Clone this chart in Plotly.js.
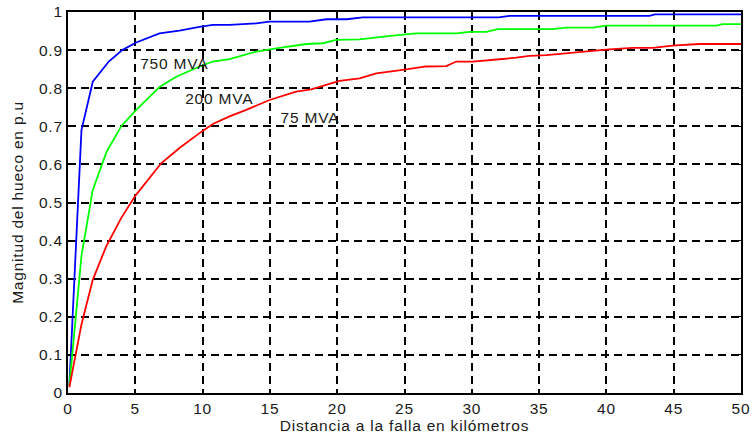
<!DOCTYPE html>
<html>
<head>
<meta charset="utf-8">
<script src="https://cdn.plot.ly/plotly-3.0.1.min.js"></script>
<style>
  html, body { margin: 0; padding: 0; background: #fff; }
  #chart { width: 752px; height: 443px; }
  .main-svg text { letter-spacing: 0.8px; }
</style>
</head>
<body>
<div id="chart"></div>
<script>
// ---- Data ----
const seriesNames = ["750 MVA", "200 MVA", "75 MVA"];

const x750 = [0.1, 1.0, 1.84, 3.03, 4.03, 5.07, 6.8, 8.28, 9.77, 10.76, 12.0, 13.98, 14.97, 17.94, 19.2, 20.7, 21.9, 32.0, 32.8, 43.2, 43.6, 50];
const y750 = [0.02, 0.69, 0.817, 0.87, 0.90, 0.92, 0.944, 0.951, 0.961, 0.966, 0.966, 0.970, 0.975, 0.975, 0.981, 0.981, 0.986, 0.986, 0.990, 0.990, 0.994, 0.994];

const x200 = [0.1, 1.0, 1.84, 2.88, 3.97, 5.07, 6.8, 8.04, 9.77, 10.76, 12.0, 13.98, 15.71, 17.7, 18.93, 19.93, 21.66, 23.14, 24.13, 25.87, 28.84, 29.83, 31.07, 31.93, 36.0, 37.0, 39.0, 40.0, 48.2, 48.65, 50];
const y200 = [0.02, 0.36, 0.533, 0.634, 0.701, 0.743, 0.803, 0.83, 0.857, 0.87, 0.876, 0.896, 0.906, 0.916, 0.918, 0.927, 0.928, 0.935, 0.938, 0.944, 0.944, 0.948, 0.948, 0.955, 0.955, 0.959, 0.959, 0.964, 0.964, 0.968, 0.968];

const x75 = [0.1, 1.0, 1.84, 2.84, 3.95, 5.01, 6.92, 8.28, 9.92, 10.76, 12.0, 13.24, 14.97, 15.96, 16.95, 18.07, 18.93, 20.17, 21.66, 22.9, 24.87, 26.61, 28.1, 28.84, 30.07, 31.07, 32.06, 33.3, 34.29, 35.53, 37.0, 39.0, 40.2, 41.96, 43.45, 44.9, 46.9, 50];
const y75 = [0.015, 0.18, 0.297, 0.385, 0.459, 0.518, 0.603, 0.643, 0.686, 0.706, 0.726, 0.743, 0.769, 0.78, 0.791, 0.797, 0.806, 0.819, 0.826, 0.839, 0.848, 0.857, 0.858, 0.870, 0.870, 0.874, 0.876, 0.880, 0.885, 0.887, 0.892, 0.898, 0.902, 0.906, 0.906, 0.912, 0.916, 0.916];

const xTickVals = [0, 5, 10, 15, 20, 25, 30, 35, 40, 45, 50];
const yTickVals = [0, 0.1, 0.2, 0.3, 0.4, 0.5, 0.6, 0.7, 0.8, 0.9, 1];
const yTickText = ["0", "0.1", "0.2", "0.3", "0.4", "0.5", "0.6", "0.7", "0.8", "0.9", "1"];

// label anchor positions (data coords)
const labelX = [5.4, 8.8, 15.8];
const labelY = [0.864, 0.774, 0.722];

const xTitle = "Distancia a la falla en kilómetros";
const yTitle = "Magnitud del hueco en p.u";

// ---- Plot ----
const colors = ["#0000ff", "#00ff00", "#ff0000"];
const xs = [x750, x200, x75];
const ys = [y750, y200, y75];

const traces = xs.map((xv, i) => ({
  x: xv, y: ys[i], type: "scatter", mode: "lines", name: seriesNames[i],
  line: { color: colors[i], width: 1.8 }, showlegend: false
}));

const font = { family: "Liberation Sans, Arial, sans-serif", size: 15.5, color: "#1a1a1a" };

const axisCommon = {
  showline: true, mirror: "ticks", linecolor: "#000", linewidth: 2,
  ticks: "inside", ticklen: 3, tickwidth: 1, tickcolor: "#000",
  showgrid: true, gridcolor: "#000", gridwidth: 2, griddash: "8px,5px",
  zeroline: false, tickfont: font
};

const layout = {
  width: 752, height: 443,
  margin: { l: 68, r: 11, t: 12, b: 50 },
  paper_bgcolor: "#fff", plot_bgcolor: "#fff",
  font: font,
  xaxis: Object.assign({}, axisCommon, {
    range: [0, 50], tickvals: xTickVals,
    title: { text: xTitle, font: font, standoff: 2 }
  }),
  yaxis: Object.assign({}, axisCommon, {
    range: [0, 1], tickvals: yTickVals, ticktext: yTickText,
    title: { text: yTitle, font: font, standoff: 14 }
  }),
  annotations: seriesNames.map((t, i) => ({
    x: labelX[i], y: labelY[i], xref: "x", yref: "y", text: t,
    showarrow: false, xanchor: "left", yanchor: "middle", font: font
  }))
};

Plotly.newPlot("chart", traces, layout, { displayModeBar: false, staticPlot: true });
</script>
</body>
</html>
